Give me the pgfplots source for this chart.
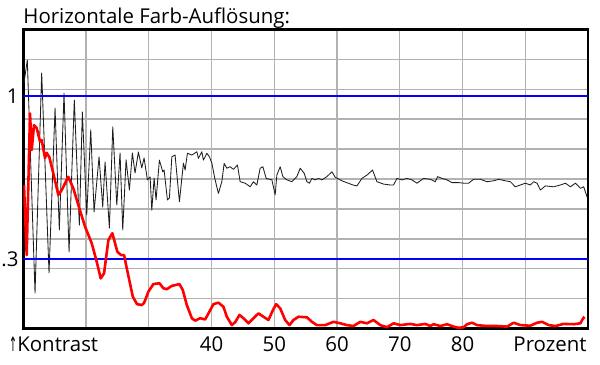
\documentclass[border=0pt]{standalone}
\usepackage{pgfplots}
\pgfplotsset{compat=1.18}
\usepackage{graphicx}
\usepackage{fontspec}
\setmainfont{Open Sans}
\newfontfamily\arrowfont{DejaVu Sans}
\definecolor{gridgray}{RGB}{178,178,178}
\definecolor{curvegray}{RGB}{30,30,30}
\begin{document}
\begin{tikzpicture}
\begin{axis}[
  scale only axis,
  width=564.7bp, height=299.4bp,
  xmin=10, xmax=100, ymin=0, ymax=10,
  xtick={20,30,40,50,60,70,80,90},
  xticklabels={,,40,50,60,70,80,},
  ytick={1,2,3,4,5,6,7,8,9},
  yticklabels={},
  extra y ticks={2.33,7.77},
  extra y tick labels={.3,1},
  extra y tick style={grid=none},
  major tick length=0pt,
  grid=major,
  grid style={gridgray, line width=1.3bp},
  axis line style={black, line width=2.6bp},
  /pgf/number format/assume math mode=true,
  tick label style={font=\fontsize{20.5}{24}\selectfont},
  x tick label style={anchor=base, inner sep=0pt, yshift=-22.8bp},
  y tick label style={anchor=east, inner sep=0pt, xshift=-4.5bp},
  clip=true,
]
\coordinate (ll) at (rel axis cs:0,0);
\coordinate (ur) at (rel axis cs:1,1);
\coordinate (ul) at (rel axis cs:0,1);
% black curve
\addplot[curvegray, line width=0.85bp, line join=round] table {
x y
10.11 8.21
10.64 8.97
11.87 1.19
12.93 8.54
14.10 1.86
15.06 7.37
15.74 3.30
16.49 7.87
17.29 2.56
18.13 7.64
18.93 3.46
19.41 7.24
20.11 3.80
20.75 6.64
21.28 3.90
22.07 5.74
22.66 4.06
23.03 5.57
23.72 3.36
24.26 6.74
24.90 4.13
25.42 5.87
25.85 3.30
26.38 5.64
26.91 4.63
27.38 5.87
27.81 5.20
28.34 5.90
28.88 5.37
29.25 5.70
29.78 4.97
30.21 5.07
30.48 3.96
30.85 5.03
31.16 4.30
31.69 5.63
32.23 5.24
32.44 5.30
32.97 4.30
33.29 4.37
33.67 5.74
34.19 5.80
34.88 4.24
35.52 5.53
35.79 5.30
36.16 5.86
36.86 5.80
37.66 5.91
37.91 5.69
38.45 5.91
38.71 5.63
39.25 5.86
39.67 5.74
40.05 5.53
40.57 4.97
41.10 4.52
41.64 4.91
42.01 5.52
42.44 5.36
42.97 5.41
43.49 5.32
44.13 5.47
44.56 4.91
45.36 4.86
46.16 4.74
46.68 4.91
47.22 4.80
47.75 5.36
48.18 5.41
48.71 5.02
49.62 4.97
50.14 4.47
50.41 5.13
50.94 5.41
51.37 5.08
52.01 4.97
52.81 4.91
53.60 5.08
54.13 5.36
54.77 5.19
55.20 4.91
55.61 4.86
56.00 5.02
56.52 4.97
57.05 5.02
57.59 4.97
58.39 5.08
59.19 5.24
59.71 5.06
60.78 4.94
62.54 4.80
63.17 4.77
63.97 5.02
64.77 5.13
65.66 5.30
66.36 4.91
67.42 4.83
68.48 4.80
69.01 4.80
69.55 5.02
70.35 4.97
71.15 5.02
71.94 4.97
72.74 4.86
73.80 5.02
74.86 4.99
75.66 4.91
76.03 5.08
76.73 5.02
77.53 4.97
78.33 4.88
79.38 4.88
80.18 4.86
80.97 4.86
81.77 4.99
82.84 4.99
83.91 4.91
84.96 4.94
85.76 4.99
86.83 4.94
87.62 4.91
88.42 4.74
89.22 4.80
90.02 4.86
90.81 4.80
91.34 4.91
91.88 4.86
92.41 4.63
93.21 4.77
94.53 4.74
95.60 4.80
96.40 4.86
97.19 4.74
97.99 4.86
98.79 4.69
99.31 4.74
99.86 4.39
};
% blue reference lines
\addplot[blue, line width=1.8bp] coordinates {(10,7.77) (100,7.77)};
\addplot[blue, line width=1.8bp] coordinates {(10,2.33) (100,2.33)};
% red curve
\addplot[red, line width=2.6bp, line join=round] table {
x y
10.11 4.80
10.54 2.46
11.07 7.19
11.34 5.97
11.71 6.80
12.14 6.70
12.66 6.25
12.93 6.30
13.46 5.70
13.73 5.87
14.15 5.73
14.78 5.19
15.58 4.47
16.12 4.63
16.92 4.97
17.18 5.07
17.97 4.69
18.77 4.13
19.84 3.41
20.91 2.85
21.71 2.23
22.34 1.68
22.87 1.85
23.56 2.96
24.19 3.19
24.99 2.57
25.58 2.46
26.06 2.46
26.49 2.02
27.45 1.07
28.13 0.82
28.88 0.79
29.25 0.86
29.94 1.24
30.73 1.49
31.69 1.52
32.33 1.35
32.87 1.32
33.67 1.43
34.88 1.49
35.42 1.29
36.06 0.79
36.86 0.35
37.38 0.27
38.18 0.35
38.98 0.31
39.51 0.51
40.30 0.82
41.10 0.87
41.90 0.73
42.44 0.40
43.24 0.12
43.81 0.23
44.45 0.46
45.09 0.35
45.89 0.18
46.68 0.35
47.48 0.51
48.28 0.40
49.07 0.29
49.78 0.62
50.30 0.82
50.94 0.68
51.74 0.29
52.42 0.12
53.06 0.29
53.86 0.40
55.20 0.38
56.00 0.23
56.79 0.12
58.12 0.12
59.44 0.23
60.51 0.18
61.58 0.12
62.63 0.09
63.70 0.23
64.77 0.18
65.82 0.29
66.89 0.12
67.96 0.05
69.01 0.18
70.08 0.12
71.67 0.16
72.74 0.12
74.07 0.16
74.86 0.09
75.39 0.15
76.46 0.09
77.53 0.15
78.58 0.07
79.38 0.03
80.18 0.05
80.72 0.15
81.52 0.20
82.31 0.12
83.91 0.09
85.50 0.09
87.10 0.07
88.15 0.20
89.22 0.12
90.81 0.10
91.88 0.20
92.68 0.23
93.73 0.12
94.80 0.09
96.12 0.16
97.72 0.15
98.79 0.18
99.06 0.29
99.43 0.40
};
\end{axis}
\node[anchor=base west, inner sep=0pt, font=\fontsize{20.5}{24}\selectfont]
  at ([shift={(0bp,6bp)}]ul) {Horizontale Farb-Auflösung:};
\node[anchor=base west, inner sep=0pt, font=\fontsize{20.5}{24}\selectfont]
  at ([shift={(-14.5bp,-22.8bp)}]ll) {\scalebox{0.5}[1]{\arrowfont\fontsize{20}{24}\selectfont ↑}Kontrast};
\node[anchor=base, inner sep=0pt, font=\fontsize{20.5}{24}\selectfont]
  at ([shift={(526.7bp,-22.8bp)}]ll) {Prozent};
\pgfresetboundingbox
\path ([shift={(-23.3bp,-35.3bp)}]ll) rectangle ([shift={(12bp,29.3bp)}]ur);
\end{tikzpicture}
\end{document}
